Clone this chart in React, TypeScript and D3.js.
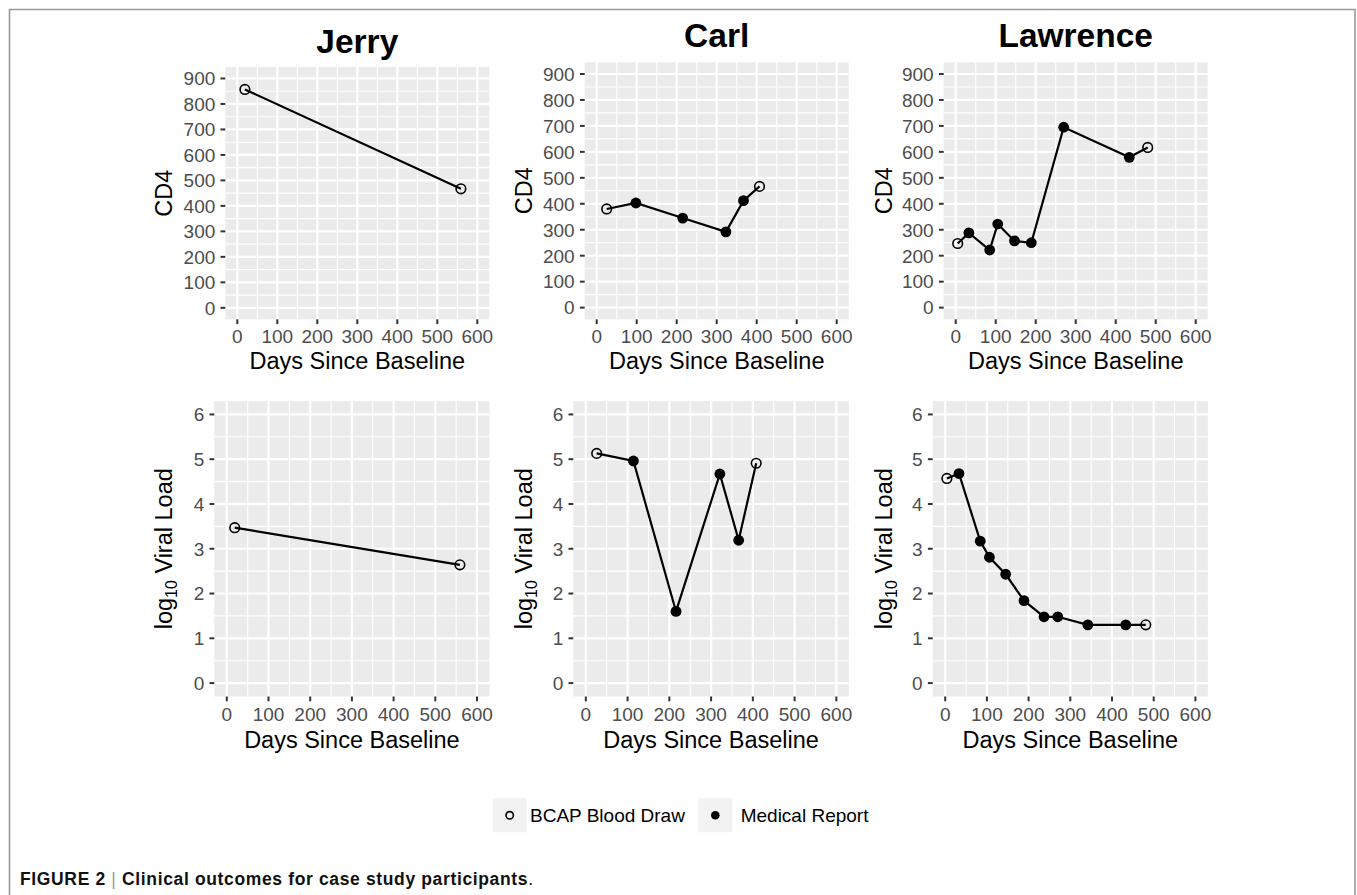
import * as d3 from 'd3'

const FONT = '"Liberation Sans", Arial, Helvetica, sans-serif'

// participants and the days axis
const participants = ['Jerry', 'Carl', 'Lawrence']
const dayTicks = [0, 100, 200, 300, 400, 500, 600]
const dayMinor = [50, 150, 250, 350, 450, 550]
const cd4Ticks = [0, 100, 200, 300, 400, 500, 600, 700, 800, 900]
const cd4Minor = [50, 150, 250, 350, 450, 550, 650, 750, 850]
const vlTicks = [0, 1, 2, 3, 4, 5, 6]
const vlMinor = [0.5, 1.5, 2.5, 3.5, 4.5, 5.5]

// Jerry
const jerryCd4Day = [19, 559]
const jerryCd4 = [857, 467]
const jerryCd4Src = ['bcap', 'bcap']
const jerryVlDay = [19, 559]
const jerryVl = [3.47, 2.64]
const jerryVlSrc = ['bcap', 'bcap']

// Carl
const carlCd4Day = [25, 98, 215, 323, 367, 407]
const carlCd4 = [380, 403, 345, 292, 412, 467]
const carlCd4Src = ['bcap', 'med', 'med', 'med', 'med', 'bcap']
const carlVlDay = [26, 114, 216, 321, 366, 408]
const carlVl = [5.13, 4.96, 1.6, 4.67, 3.19, 4.91]
const carlVlSrc = ['bcap', 'med', 'med', 'med', 'med', 'bcap']

// Lawrence
const lawrenceCd4Day = [5, 33, 85, 105, 147, 189, 270, 434, 480]
const lawrenceCd4 = [247, 288, 222, 322, 257, 250, 695, 579, 617]
const lawrenceCd4Src = ['bcap', 'med', 'med', 'med', 'med', 'med', 'med', 'med', 'bcap']
const lawrenceVlDay = [4, 33, 84, 106, 145, 189, 237, 270, 342, 433, 481]
const lawrenceVl = [4.57, 4.68, 3.17, 2.81, 2.43, 1.84, 1.48, 1.48, 1.3, 1.3, 1.3]
const lawrenceVlSrc = ['bcap', 'med', 'med', 'med', 'med', 'med', 'med', 'med', 'med', 'med', 'bcap']

const legendLabels = ['BCAP Blood Draw', 'Medical Report']
const legendKinds = ['bcap', 'med']

// layout (pixels)
const topLefts = [225.3, 584.7, 943.7]
const topTops = [67, 62.3, 62.3]
const botLefts = [214.3, 573.3, 932.7]
const rights = [489.3, 848.7, 1207.7]
const titleBase = [52.5, 47, 47]
const yTitleX = [171.7, 531.5, 891.5]

type PanelProps = {
  left: number, right: number, top: number, bottom: number,
  yDomain: [number, number], yTicks: number[], yMinor: number[],
  days: number[], values: number[], sources: string[],
  tickBase: number, xTitleBase: number, yTitleX: number, vl: boolean
}

function Point({ cx, cy, kind, r }: { cx: number, cy: number, kind: string, r: number }) {
  if (kind === 'bcap')
    return <circle cx={cx} cy={cy} r={r - 0.6} fill="none" stroke="black" strokeWidth={1.6} />
  return <circle cx={cx} cy={cy} r={r} fill="black" />
}

function Panel(p: PanelProps) {
  const x = d3.scaleLinear().domain([-30, 630]).range([p.left, p.right])
  const y = d3.scaleLinear().domain(p.yDomain).range([p.bottom, p.top])
  const line = d3.line<number>()
    .x((d, i) => x(p.days[i]))
    .y(d => y(d))
  const cy = (p.top + p.bottom) / 2
  return (
    <g>
      <rect x={p.left} y={p.top} width={p.right - p.left} height={p.bottom - p.top} fill="#EBEBEB" />
      {dayMinor.map(d => (
        <line key={'xm' + d} x1={x(d)} x2={x(d)} y1={p.top} y2={p.bottom} stroke="white" strokeWidth={1.1} />
      ))}
      {p.yMinor.map(d => (
        <line key={'ym' + d} x1={p.left} x2={p.right} y1={y(d)} y2={y(d)} stroke="white" strokeWidth={1.1} />
      ))}
      {dayTicks.map(d => (
        <line key={'xM' + d} x1={x(d)} x2={x(d)} y1={p.top} y2={p.bottom} stroke="white" strokeWidth={2.2} />
      ))}
      {p.yTicks.map(d => (
        <line key={'yM' + d} x1={p.left} x2={p.right} y1={y(d)} y2={y(d)} stroke="white" strokeWidth={2.2} />
      ))}
      <path d={line(p.values) || ''} fill="none" stroke="black" strokeWidth={2.2} />
      {p.values.map((v, i) => (
        <Point key={i} cx={x(p.days[i])} cy={y(v)} kind={p.sources[i]} r={5.4} />
      ))}
      {/* x axis */}
      {dayTicks.map(d => (
        <g key={'xt' + d}>
          <line x1={x(d)} x2={x(d)} y1={p.bottom} y2={p.bottom + 4.8} stroke="#333" strokeWidth={2} />
          <text x={x(d)} y={p.tickBase} textAnchor="middle" fontSize={19} fill="#4D4D4D">{d}</text>
        </g>
      ))}
      {/* y axis */}
      {p.yTicks.map(d => (
        <g key={'yt' + d}>
          <line x1={p.left - 4.8} x2={p.left} y1={y(d)} y2={y(d)} stroke="#333" strokeWidth={2} />
          <text x={p.left - 10} y={y(d)} dy="0.36em" textAnchor="end" fontSize={19} fill="#4D4D4D">{d}</text>
        </g>
      ))}
      <text x={(p.left + p.right) / 2} y={p.xTitleBase} textAnchor="middle" fontSize={23.5} fill="black">
        Days Since Baseline
      </text>
      <text transform={`translate(${p.yTitleX},${cy}) rotate(-90)`} textAnchor="middle" fontSize={23.5} fill="black">
        {p.vl
          ? <><tspan>log</tspan><tspan fontSize={16} dy={5}>10</tspan><tspan dy={-5}> Viral Load</tspan></>
          : 'CD4'}
      </text>
    </g>
  )
}

export default function App() {
  const cd4Days = [jerryCd4Day, carlCd4Day, lawrenceCd4Day]
  const cd4Vals = [jerryCd4, carlCd4, lawrenceCd4]
  const cd4Srcs = [jerryCd4Src, carlCd4Src, lawrenceCd4Src]
  const vlDays = [jerryVlDay, carlVlDay, lawrenceVlDay]
  const vlVals = [jerryVl, carlVl, lawrenceVl]
  const vlSrcs = [jerryVlSrc, carlVlSrc, lawrenceVlSrc]

  const legendX = [492.7, 698.3]
  const legendText = [530, 740.7]

  return (
    <svg width={1357} height={895} style={{ position: 'absolute', left: 0, top: 0 }} fontFamily={FONT}>
      <rect width={1357} height={895} fill="white" />
      <path d="M9.5,895 V9.5 H1355 V895" fill="none" stroke="#9A9A9A" strokeWidth={1.6} />
      {participants.map((name, i) => (
        <text key={name} x={(topLefts[i] + rights[i]) / 2} y={titleBase[i]} textAnchor="middle"
          fontSize={33.5} fontWeight="bold">{name}</text>
      ))}
      {participants.map((name, i) => (
        <Panel key={'cd4' + name} left={topLefts[i]} right={rights[i]} top={topTops[i]} bottom={319.3}
          yDomain={[-45, 945]} yTicks={cd4Ticks} yMinor={cd4Minor}
          days={cd4Days[i]} values={cd4Vals[i]} sources={cd4Srcs[i]}
          tickBase={342.5} xTitleBase={368.5} yTitleX={yTitleX[i]} vl={false} />
      ))}
      {participants.map((name, i) => (
        <Panel key={'vl' + name} left={botLefts[i]} right={rights[i] + 0.2} top={401} bottom={696.5}
          yDomain={[-0.3, 6.3]} yTicks={vlTicks} yMinor={vlMinor}
          days={vlDays[i]} values={vlVals[i]} sources={vlSrcs[i]}
          tickBase={721} xTitleBase={747.5} yTitleX={yTitleX[i]} vl={true} />
      ))}
      {/* legend */}
      {legendLabels.map((lab, i) => (
        <g key={lab}>
          <rect x={legendX[i]} y={798.3} width={34} height={34} fill="#F2F2F2" />
          <Point cx={legendX[i] + 17} cy={815.3} kind={legendKinds[i]} r={4.3} />
          <text x={legendText[i]} y={822} fontSize={19}>{lab}</text>
        </g>
      ))}
      {/* caption */}
      <text x={20} y={884.5} fontSize={17.5} fontWeight="bold" fill="#111" textLength={513} lengthAdjust="spacing">
        <tspan>FIGURE 2 </tspan>
        <tspan fontWeight="normal" fill="#999">|</tspan>
        <tspan> Clinical outcomes for case study participants</tspan>
        <tspan fontWeight="normal">.</tspan>
      </text>
    </svg>
  )
}
